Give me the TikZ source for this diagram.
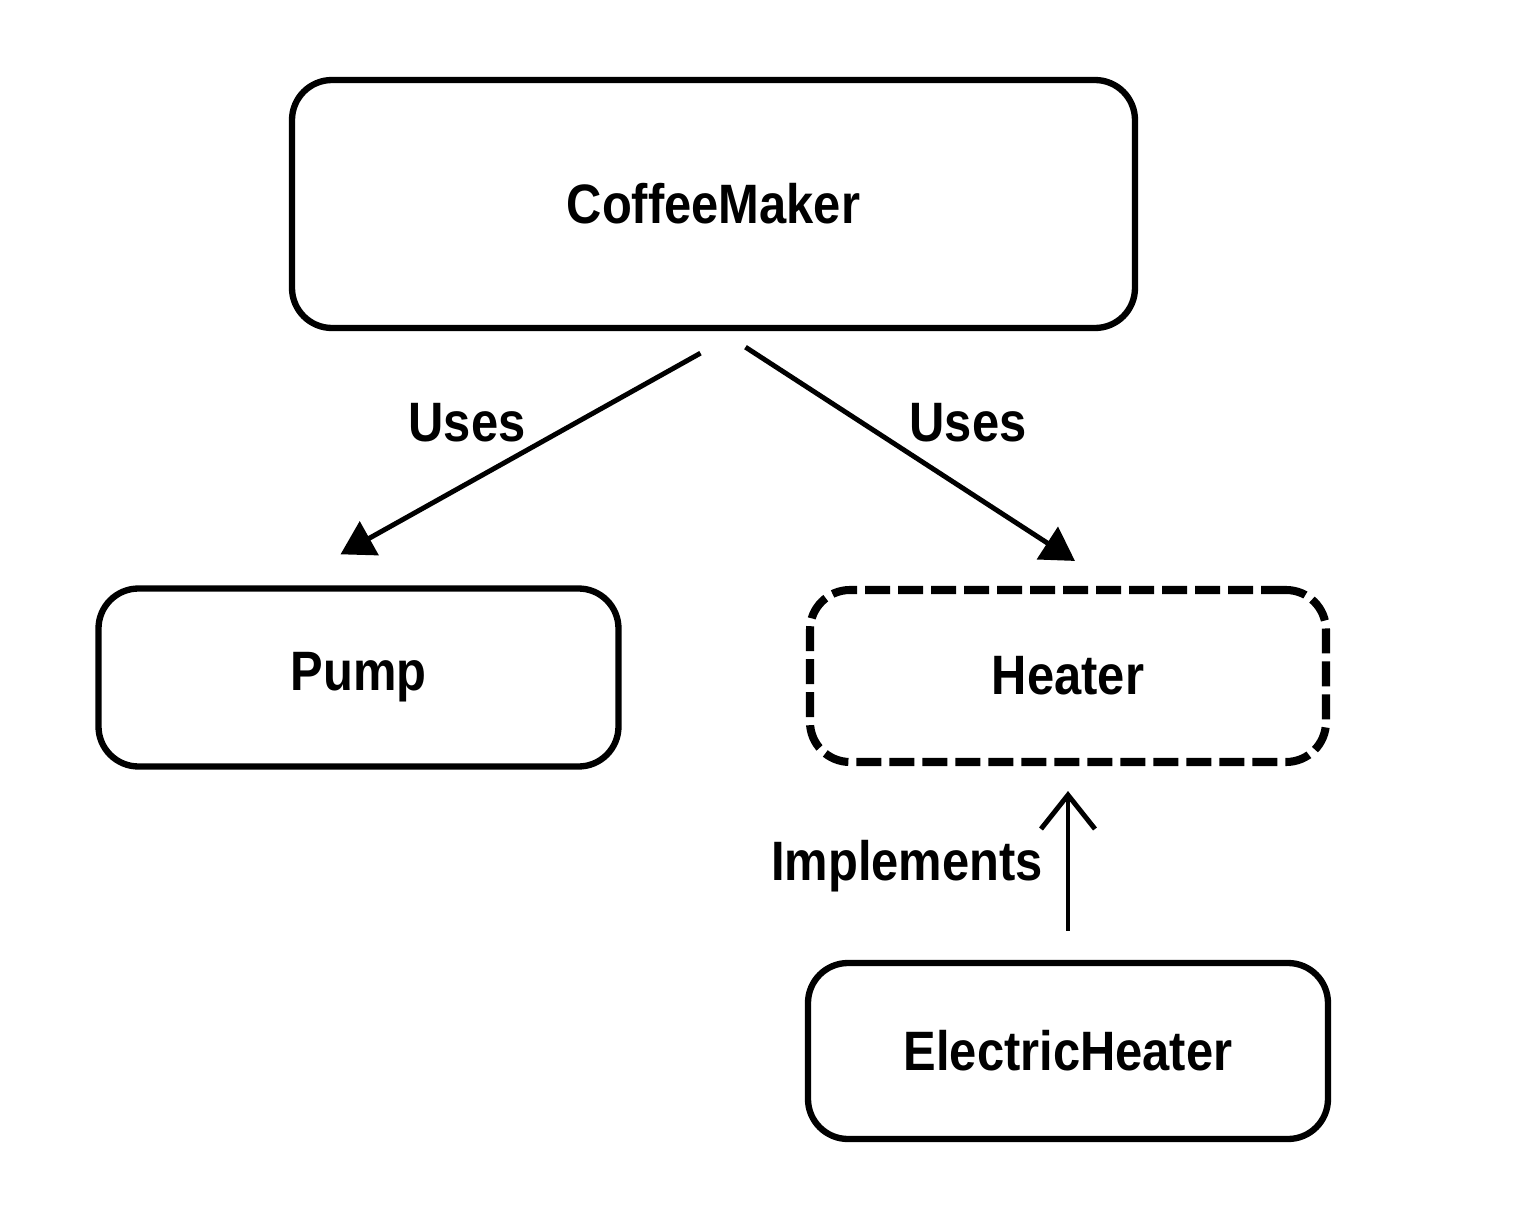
\documentclass[tikz,border=0pt]{standalone}
\usepackage{fontspec}
\setmainfont[FakeStretch=0.88]{Liberation Sans}
\usepackage{tikz}
\usetikzlibrary{arrows.meta}
\tikzstyle{every node}=[font=\bfseries\fontsize{15.8}{19}\selectfont]
\tikzstyle{classbox}=[draw, line width=1.8pt, rounded corners=0.4cm, align=center]
\tikzstyle{ifacebox}=[draw, line width=2.3pt, dash pattern=on 0.25cm off 0.08cm, rounded corners=0.4cm, align=center]
\tikzstyle{uses}=[line width=1.4pt, -{Triangle[length=3.3mm,width=3.8mm]}]
\tikzstyle{impl}=[line width=1.4pt, -{Straight Barb[length=3.4mm,width=5.4mm,line width=1.4pt]}]

\begin{document}
\begin{tikzpicture}
	\useasboundingbox (0,0) rectangle (15.2,-12.18);
	\node[classbox, minimum width=8.43cm, minimum height=2.48cm] (coffee) at (7.135,-2.04) {CoffeeMaker};
	\node[classbox, minimum width=5.2cm, minimum height=1.78cm] (pump) at (3.585,-6.775) {Pump};
	\node[ifacebox, minimum width=5.16cm, minimum height=1.72cm] (heater) at (10.68,-6.76) {Heater};
	\node[classbox, minimum width=5.2cm, minimum height=1.76cm] (electric) at (10.68,-10.51) {ElectricHeater};
	% uses relations
	\draw[uses] ([xshift=-1.3mm,yshift=-2.2mm]coffee.south) -- ([xshift=-1.8mm,yshift=3.1mm]pump.north);
	\node (usesl) at (4.67,-4.23) {Uses};
	\draw[uses] ([xshift=3.2mm,yshift=-1.6mm]coffee.south) -- ([xshift=0.7mm,yshift=2.5mm]heater.north);
	\node (usesr) at (9.68,-4.23) {Uses};
	% implements relation
	\draw[impl] ([yshift=2.9mm]electric.north) -- ([yshift=-2.5mm]heater.south);
	\node (implements) at (9.07,-8.66) {Implements};
\end{tikzpicture}
\end{document}
